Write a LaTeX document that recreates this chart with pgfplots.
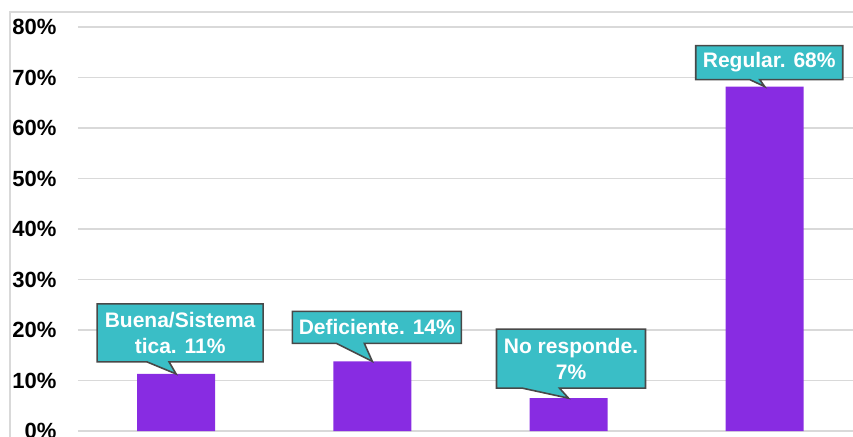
\documentclass[border=0pt]{standalone}
\usepackage{fontspec}
\setmainfont{Liberation Sans}
\usepackage{pgfplots}
\pgfplotsset{compat=1.18}
\definecolor{barcol}{RGB}{136,44,226}
\definecolor{callfill}{RGB}{58,190,198}
\definecolor{callline}{RGB}{72,72,72}
\definecolor{gridcol}{RGB}{217,217,217}
% #1 x, #2 y (tip), #3 left, #4 right, #5 top, #6 bottom, #7 base1, #8 base2, #9 text
\newcommand{\callout}[9]{%
  \draw[fill=callfill, draw=callline, line width=1.6pt, line join=miter, shift={(axis cs:#1,#2)}]
    (#3pt,#6pt) -- (#3pt,#5pt) -- (#4pt,#5pt) -- (#4pt,#6pt) -- (#8pt,#6pt) -- (0pt,0pt) -- (#7pt,#6pt) -- cycle;
  \node[font=\fontsize{21}{26}\selectfont\bfseries, text=white, align=center, inner sep=0pt,
        xshift={(#3pt+#4pt)/2}, yshift={(#5pt+#6pt)/2}] at (axis cs:#1,#2) {#9};
}
\begin{document}
\begin{tikzpicture}
\begin{axis}[
  at={(0,0)}, anchor=south west,
  scale only axis, width=775pt, height=404pt,
  xmin=-0.5, xmax=3.45, ymin=0, ymax=80,
  ybar, bar width=78pt,
  axis line style={draw=none},
  tick style={draw=none},
  xtick=\empty,
  ytick={0,10,20,30,40,50,60,70,80},
  yticklabels={0\%,10\%,20\%,30\%,40\%,50\%,60\%,70\%,80\%},
  yticklabel style={font=\fontsize{22}{26}\selectfont\bfseries, text=black, xshift=-18pt},
  ymajorgrids, major grid style={draw=gridcol, line width=1.5pt},
  clip=false,
]
\addplot[fill=barcol, draw=none] coordinates {(0,11.3) (1,13.8) (2,6.5) (3,68.2)};
\callout{0}{11.3}{-79}{87}{70}{12}{-29}{-7}{Buena/Sistema\\tica. 11\%}
\callout{1}{13.8}{-80}{89}{50}{18}{-36}{-8}{Deficiente. 14\%}
\callout{2}{6.5}{-72}{77}{69}{10}{-46}{-9}{No responde.\\7\%}
\callout{3}{68.2}{-69}{78}{41}{7}{-15}{-5}{Regular. 68\%}
\end{axis}
\draw[gridcol, line width=1.5pt] (-68pt,-10pt) -- (-68pt,419pt) -- (790pt,419pt);
\pgfresetboundingbox
\useasboundingbox (-78pt,-5pt) rectangle (775pt,431pt);
\end{tikzpicture}
\end{document}
